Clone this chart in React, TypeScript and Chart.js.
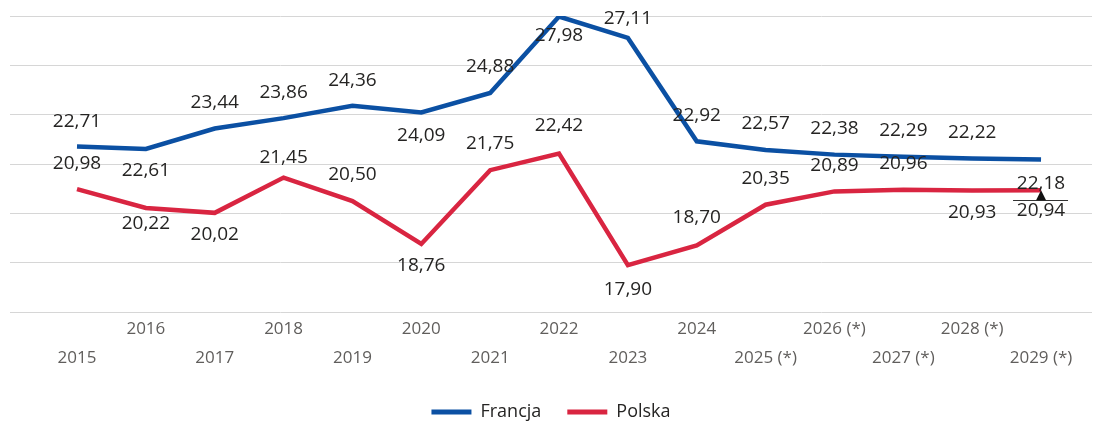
import React, { useEffect, useRef } from "react";
import { Chart, registerables } from "chart.js";

Chart.register(...registerables);

const years = [
  "2015", "2016", "2017", "2018", "2019", "2020", "2021", "2022", "2023", "2024",
  "2025 (*)", "2026 (*)", "2027 (*)", "2028 (*)", "2029 (*)",
];
const francja = [22.71, 22.61, 23.44, 23.86, 24.36, 24.09, 24.88, 27.98, 27.11, 22.92, 22.57, 22.38, 22.29, 22.22, 22.18];
const polska = [20.98, 20.22, 20.02, 21.45, 20.5, 18.76, 21.75, 22.42, 17.9, 18.7, 20.35, 20.89, 20.96, 20.93, 20.94];
const seriesNames = ["Francja", "Polska"];
const yMin = 16;
const yMax = 28;
const yStep = 2;

// label placement (vertical offset from point, px) — styling only
const francjaLabelDy = [-25, 22, -26, -26, -25, 23, -26, 19, -19, -26, -26, -26, -26, -26, 24];
const polskaLabelDy = [-26, 16, 22, -20, -26, 22, -27, -28, 24, -28, -26, -26, -26, 22, 20];

const BLUE = "#0b50a3";
const RED = "#d92541";
const FONT = "'Open Sans', 'Noto Sans', sans-serif";

const labelPlugin = {
  id: "valueLabels",
  afterDatasetsDraw(chart: any) {
    const ctx = chart.ctx;
    const offsets = [francjaLabelDy, polskaLabelDy];
    ctx.save();
    ctx.font = `19px ${FONT}`;
    ctx.fillStyle = "#252423";
    ctx.textAlign = "center";
    ctx.textBaseline = "middle";
    chart.data.datasets.forEach((ds: any, di: number) => {
      const meta = chart.getDatasetMeta(di);
      meta.data.forEach((pt: any, i: number) => {
        const v = ds.data[i].y;
        const txt = v.toFixed(2).replace(".", ",");
        ctx.fillText(txt, pt.x, pt.y + offsets[di][i]);
      });
    });
    // small leader marker at the last Polska point
    const pm = chart.getDatasetMeta(1);
    const last = pm.data[pm.data.length - 1];
    if (last) {
      ctx.strokeStyle = "#333";
      ctx.lineWidth = 1;
      ctx.beginPath();
      ctx.moveTo(last.x - 28, Math.round(last.y + 10) + 0.5);
      ctx.lineTo(last.x + 27, Math.round(last.y + 10) + 0.5);
      ctx.stroke();
      ctx.fillStyle = "#111";
      ctx.beginPath();
      ctx.moveTo(last.x, last.y);
      ctx.lineTo(last.x - 5, last.y + 10);
      ctx.lineTo(last.x + 5, last.y + 10);
      ctx.closePath();
      ctx.fill();
    }
    ctx.restore();
  },
};

export default function App() {
  const ref = useRef<HTMLCanvasElement | null>(null);
  useEffect(() => {
    if (!ref.current) return;
    const chart = new Chart(ref.current, {
      type: "line",
      data: {
        datasets: [
          {
            label: seriesNames[0],
            data: francja.map((v, i) => ({ x: i, y: v })),
            borderColor: BLUE,
            backgroundColor: BLUE,
            borderWidth: 4.5,
            pointRadius: 0,
            tension: 0,
          },
          {
            label: seriesNames[1],
            data: polska.map((v, i) => ({ x: i, y: v })),
            borderColor: RED,
            backgroundColor: RED,
            borderWidth: 4.5,
            pointRadius: 0,
            tension: 0,
          },
        ],
      },
      options: {
        responsive: false,
        animation: false,
        layout: { padding: { top: 16, left: 10, right: 1, bottom: 0 } },
        plugins: {
          tooltip: { enabled: false },
          legend: {
            position: "bottom",
            labels: {
              boxWidth: 40,
              boxHeight: 5,
              padding: 26,
              color: "#252423",
              font: { family: FONT, size: 18 },
              generateLabels: (c: any) =>
                c.data.datasets.map((ds: any, i: number) => ({
                  text: ds.label,
                  fillStyle: ds.borderColor,
                  strokeStyle: ds.borderColor,
                  lineWidth: 0,
                  hidden: false,
                  datasetIndex: i,
                  fontColor: "#252423",
                })),
            },
          },
        },
        scales: {
          x: {
            type: "linear",
            min: -0.973,
            max: 14.74,
            grid: { display: false, drawTicks: false },
            border: { display: false },
            afterFit: (s: any) => {
              s.height = 65;
            },
            ticks: {
              stepSize: 1,
              includeBounds: false,
              autoSkip: false,
              maxRotation: 0,
              minRotation: 0,
              padding: 3,
              color: "#605E5C",
              font: { family: FONT, size: 17, lineHeight: 29 / 17 },
              callback: (v: any) => {
                const i = Math.round(Number(v));
                const t = years[i];
                if (t === undefined) return "";
                return i % 2 === 0 ? ["", t] : [t, ""];
              },
            },
          },
          y: {
            min: yMin,
            max: yMax,
            ticks: { display: false, stepSize: yStep },
            grid: { color: "#d6d6d6", lineWidth: 1, drawTicks: false },
            border: { display: false },
          },
        },
      },
      plugins: [labelPlugin],
    } as any);
    return () => chart.destroy();
  }, []);
  return (
    <div style={{ position: "fixed", left: 0, top: 0, width: 1093, height: 423, overflow: "hidden", background: "#fff" }}>
      <canvas ref={ref} width={1093} height={431} style={{ display: "block" }} />
    </div>
  );
}
